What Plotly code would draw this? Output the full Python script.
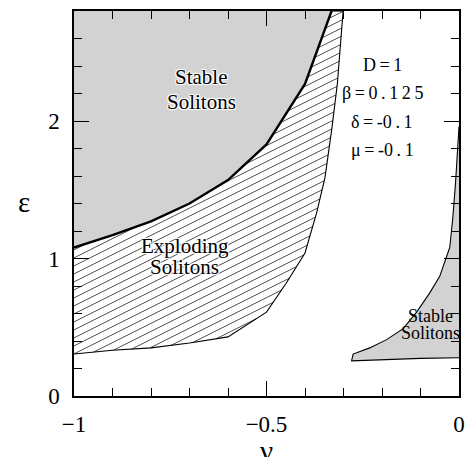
import plotly.graph_objects as go

# ---------------- data ----------------
# boundary of the upper-left "Stable Solitons" region (thick curve)
stable_nu = [-1.0, -0.9, -0.8, -0.7, -0.6, -0.5, -0.4, -0.331]
stable_eps = [1.08, 1.17, 1.27, 1.40, 1.57, 1.83, 2.27, 2.8]

# right boundary of the "Exploding Solitons" region (top to bottom)
expl_right_nu = [-0.301, -0.316, -0.330, -0.348, -0.370, -0.400, -0.449, -0.5, -0.6]
expl_right_eps = [2.8, 2.27, 1.95, 1.59, 1.33, 1.04, 0.82, 0.61, 0.43]

# lower boundary of the "Exploding Solitons" region (right to left)
expl_low_nu = [-0.6, -0.7, -0.8, -0.9, -1.0]
expl_low_eps = [0.43, 0.385, 0.35, 0.333, 0.305]

# small "Stable Solitons" region near nu = 0
right_nu = [0.0, -0.003, -0.009, -0.016, -0.024, -0.034, -0.05, -0.076, -0.11,
            -0.145, -0.188, -0.232, -0.275, -0.279, -0.1, 0.0]
right_eps = [1.96, 1.79, 1.55, 1.30, 1.08, 1.0, 0.87, 0.75, 0.61,
             0.49, 0.41, 0.35, 0.305, 0.256, 0.274, 0.278]

x_tickvals = [-1, -0.5, 0]
x_ticktext = ["\u22121", "\u22120.5", "0"]
y_tickvals = [0, 1, 2]
y_ticktext = ["0", "1", "2"]

param_lines = ["D\u2009=\u20091", "\u03b2\u2009=\u20090\u2009.\u20091\u20092\u20095",
               "\u03b4\u2009=\u2009-0\u2009.\u20091", "\u03bc\u2009=\u2009-0\u2009.\u20091"]

# ---------------- layout constants ----------------
W, H = 465, 457
ML, MR, MT, MB = 74, 6, 11, 61
XR = [-1.0, 0.0]
YR = [0.0, 2.8]
SERIF = "Liberation Serif, Times New Roman, serif"
GRAY = "#d2d2d2"

px_per_x = (W - ML - MR) / (XR[1] - XR[0])
px_per_y = (H - MT - MB) / (YR[1] - YR[0])

# hatch style: pixel slope 0.5, 8 px vertical spacing
hatch_slope = 0.5 * px_per_x / px_per_y
hatch_spacing = 8.0 / px_per_y


def hatch_segments(px, py, slope, spacing):
    xs, ys = [], []
    n = len(px)
    cs = [py[i] - slope * px[i] for i in range(n)]
    c = min(cs) + spacing * 0.5
    cmax = max(cs)
    while c < cmax:
        pts = []
        for i in range(n):
            x1, y1 = px[i], py[i]
            x2, y2 = px[(i + 1) % n], py[(i + 1) % n]
            f1 = y1 - slope * x1 - c
            f2 = y2 - slope * x2 - c
            if (f1 > 0) != (f2 > 0):
                t = f1 / (f1 - f2)
                pts.append((x1 + t * (x2 - x1), y1 + t * (y2 - y1)))
        pts.sort()
        for k in range(0, len(pts) - 1, 2):
            xs += [pts[k][0], pts[k + 1][0], None]
            ys += [pts[k][1], pts[k + 1][1], None]
        c += spacing
    return xs, ys


expl_poly_x = stable_nu + expl_right_nu + expl_low_nu[1:]
expl_poly_y = stable_eps + expl_right_eps + expl_low_eps[1:]
hx, hy = hatch_segments(expl_poly_x, expl_poly_y, hatch_slope, hatch_spacing)

fig = go.Figure()

# hatch of exploding region
fig.add_trace(go.Scatter(x=hx, y=hy, mode="lines",
                         line=dict(color="#222222", width=0.8),
                         hoverinfo="skip", showlegend=False))

# upper-left stable region
fig.add_trace(go.Scatter(x=stable_nu + [XR[0]], y=stable_eps + [YR[1]],
                         mode="none", fill="toself", fillcolor=GRAY,
                         hoverinfo="skip", showlegend=False))
fig.add_trace(go.Scatter(x=stable_nu, y=stable_eps, mode="lines",
                         line=dict(color="black", width=2.4),
                         showlegend=False))

# exploding region outline (right + lower)
fig.add_trace(go.Scatter(x=expl_right_nu + expl_low_nu[1:],
                         y=expl_right_eps + expl_low_eps[1:], mode="lines",
                         line=dict(color="black", width=1.1),
                         showlegend=False))
fig.add_trace(go.Scatter(x=[stable_nu[-1], expl_right_nu[0]],
                         y=[stable_eps[-1], expl_right_eps[0]], mode="lines",
                         line=dict(color="black", width=1.1),
                         showlegend=False))

# right stable region
fig.add_trace(go.Scatter(x=right_nu, y=right_eps, mode="lines", fill="toself",
                         fillcolor=GRAY, line=dict(color="black", width=1.1),
                         showlegend=False))

halo = "1px 1px 1px white, -1px -1px 1px white, 1px -1px 1px white, -1px 1px 1px white"

# region labels
labels = [
    ("Stable", -0.670, 2.32),
    ("Solitons", -0.670, 2.14),
    ("Exploding", -0.713, 1.09),
    ("Solitons", -0.713, 0.94),
]
for txt, x, y in labels:
    fig.add_annotation(x=x, y=y, text=txt, showarrow=False,
                       font=dict(family=SERIF, size=21, color="black", shadow=halo))

small_labels = [("Stable", -0.075, 0.585), ("Solitons", -0.075, 0.46)]
for txt, x, y in small_labels:
    fig.add_annotation(x=x, y=y, text=txt, showarrow=False,
                       font=dict(family=SERIF, size=18, color="black"))

param_y = [2.41, 2.205, 1.995, 1.79]
for txt, y in zip(param_lines, param_y):
    fig.add_annotation(x=-0.199, y=y, text=txt, showarrow=False,
                       font=dict(family=SERIF, size=18, color="black"))

# axis titles (upright)
fig.add_annotation(xref="paper", yref="paper", x=-0.129, y=0.503, text="\u03b5",
                   showarrow=False, xanchor="center", yanchor="middle",
                   font=dict(family=SERIF, size=29, color="black"))
fig.add_annotation(xref="paper", yref="paper", x=0.5, y=-0.095, text="\u03bd",
                   showarrow=False, xanchor="center", yanchor="top",
                   font=dict(family=SERIF, size=29, color="black"))

axis_common = dict(showgrid=False, zeroline=False, showline=True, linecolor="black",
                   linewidth=1.5, mirror="ticks", ticks="inside", ticklen=15,
                   tickwidth=1.2, tickcolor="black", automargin=False,
                   tickfont=dict(family=SERIF, size=23, color="black"))

fig.update_xaxes(range=XR, tickmode="array", tickvals=x_tickvals, ticktext=x_ticktext,
                 minor=dict(dtick=0.1, tick0=-1, ticks="inside", ticklen=8,
                            tickwidth=1.2, tickcolor="black"),
                 ticklabelstandoff=7, **axis_common)
fig.update_yaxes(range=YR, tickmode="array", tickvals=y_tickvals, ticktext=y_ticktext,
                 minor=dict(dtick=0.2, tick0=0, ticks="inside", ticklen=8,
                            tickwidth=1.2, tickcolor="black"),
                 ticklabelstandoff=8, **axis_common)

fig.update_layout(width=W, height=H, margin=dict(l=ML, r=MR, t=MT, b=MB),
                  plot_bgcolor="white", paper_bgcolor="white", showlegend=False)

# remove the browser's default page margin so the figure fills the window exactly
fig.write_html("out.html", config={"displayModeBar": False},
               post_script="document.body.style.margin='0';"
                           "document.body.style.overflow='hidden';")
